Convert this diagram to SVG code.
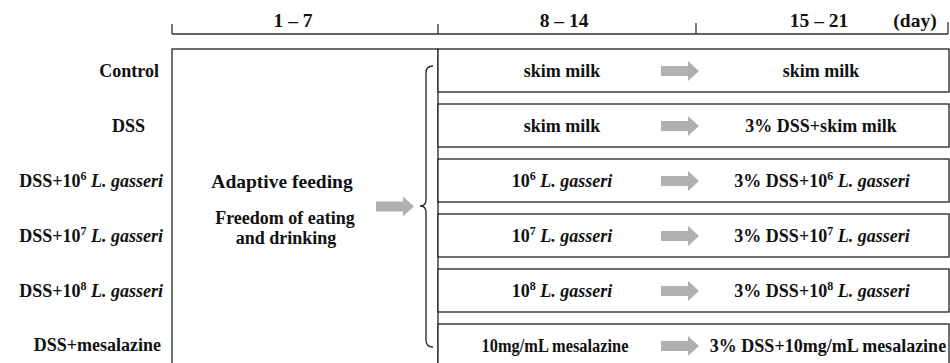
<svg xmlns="http://www.w3.org/2000/svg" width="950" height="363" viewBox="0 0 950 363">
<style>
text{font-family:"Liberation Serif","Times New Roman",serif;font-weight:bold;font-size:18px;fill:#111}
.h{font-size:19.5px}
.c{text-anchor:middle}
.e{text-anchor:end}
.i{font-style:italic}
.sup{font-size:12px}
.box{fill:#fff;stroke:#222;stroke-width:1.3}
.tl{fill:none;stroke:#333;stroke-width:1.3}
.arr{fill:#b0b0b0;stroke:none}
.brace{fill:none;stroke:#222;stroke-width:1.3}
</style>
<defs>
<path id="ga" class="arr" fill="#b0b0b0" d="M0,-5 H27 V-10 L38,0 L27,10 V5 H0 Z"/>
</defs>
<rect width="950" height="363" fill="#fff"/>
<g id="timeline">
<path class="tl" d="M172,34 H948 M172,24 V34 M438,24 V34 M696,23 V34 M948,22 V34"/>
<text class="c h" x="293" y="27">1 – 7</text>
<text class="c h" x="564" y="27">8 – 14</text>
<text class="c h" x="819" y="27">15 – 21</text>
<text class="c h" x="915" y="27">(day)</text>
</g>
<g id="labels">
<text class="e" x="159" y="77">Control</text>
<text class="e" x="145" y="132">DSS</text>
<text class="e" x="163" y="187">DSS+10<tspan class="sup" dy="-7">6</tspan><tspan dy="7"> </tspan><tspan class="i">L. gasseri</tspan></text>
<text class="e" x="163" y="242">DSS+10<tspan class="sup" dy="-7">7</tspan><tspan dy="7"> </tspan><tspan class="i">L. gasseri</tspan></text>
<text class="e" x="163" y="297">DSS+10<tspan class="sup" dy="-7">8</tspan><tspan dy="7"> </tspan><tspan class="i">L. gasseri</tspan></text>
<text class="e" x="161" y="351">DSS+mesalazine</text>
</g>
<g id="adaptive">
<rect class="box" x="172" y="49" width="266" height="330"/>
<text class="c" x="282" y="188" style="font-size:19.5px">Adaptive feeding</text>
<text class="c" x="285" y="224">Freedom of eating</text>
<text class="c" x="286" y="244">and drinking</text>
</g>
<g id="row-control">
<rect class="box" x="438" y="49" width="511" height="43"/>
<text class="c" x="562" y="77">skim milk</text>
<text class="c" x="821" y="77">skim milk</text>
</g>
<g id="row-dss">
<rect class="box" x="438" y="104" width="511" height="43"/>
<text class="c" x="562" y="132">skim milk</text>
<text class="c" x="821" y="132">3% DSS+skim milk</text>
</g>
<g id="row-lg6">
<rect class="box" x="438" y="159" width="511" height="43"/>
<text class="c" x="562" y="187">10<tspan class="sup" dy="-7">6</tspan><tspan dy="7"> </tspan><tspan class="i">L. gasseri</tspan></text>
<text class="c" x="822" y="187">3% DSS+10<tspan class="sup" dy="-7">6</tspan><tspan dy="7"> </tspan><tspan class="i">L. gasseri</tspan></text>
</g>
<g id="row-lg7">
<rect class="box" x="438" y="214" width="511" height="43"/>
<text class="c" x="562" y="242">10<tspan class="sup" dy="-7">7</tspan><tspan dy="7"> </tspan><tspan class="i">L. gasseri</tspan></text>
<text class="c" x="822" y="242">3% DSS+10<tspan class="sup" dy="-7">7</tspan><tspan dy="7"> </tspan><tspan class="i">L. gasseri</tspan></text>
</g>
<g id="row-lg8">
<rect class="box" x="438" y="269" width="511" height="43"/>
<text class="c" x="562" y="297">10<tspan class="sup" dy="-7">8</tspan><tspan dy="7"> </tspan><tspan class="i">L. gasseri</tspan></text>
<text class="c" x="822" y="297">3% DSS+10<tspan class="sup" dy="-7">8</tspan><tspan dy="7"> </tspan><tspan class="i">L. gasseri</tspan></text>
</g>
<g id="row-mesalazine">
<rect class="box" x="438" y="324" width="511" height="50"/>
<text class="c" x="555" y="352" textLength="147" lengthAdjust="spacingAndGlyphs">10mg/mL mesalazine</text>
<text class="c" x="828" y="352">3% DSS+10mg/mL mesalazine</text>
</g>
<g id="connectors">
<use href="#ga" x="376" y="206.5"/>
<path class="brace" d="M433,66 Q426,66 426,73 V200 Q426,206 420,206 Q426,206 426,212 V340 Q426,347 433,347"/>
<use href="#ga" x="661" y="71"/>
<use href="#ga" x="661" y="126"/>
<use href="#ga" x="661" y="181"/>
<use href="#ga" x="661" y="236"/>
<use href="#ga" x="661" y="291"/>
<use href="#ga" x="661" y="346"/>
</g>
</svg>
